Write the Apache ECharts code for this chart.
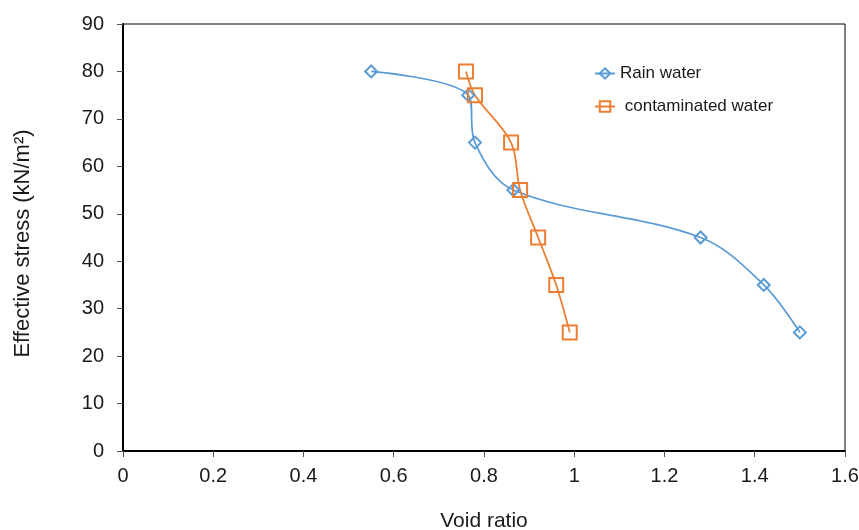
<!DOCTYPE html>
<html><head><meta charset="utf-8">
<script src="https://cdn.jsdelivr.net/npm/echarts@6/dist/echarts.min.js"></script>
<style>html,body{margin:0;padding:0;background:#fff}#c{width:859px;height:530px}</style>
</head><body><div id="c"></div>
<script>
const rainVoid = [0.55, 0.765, 0.78, 0.865, 1.28, 1.42, 1.5];
const rainStress = [80, 75, 65, 55, 45, 35, 25];
const contVoid = [0.76, 0.78, 0.86, 0.88, 0.92, 0.96, 0.99];
const contStress = [80, 75, 65, 55, 45, 35, 25];
const seriesNames = ['Rain water', 'contaminated water'];

const chart = echarts.init(document.getElementById('c'), null, {renderer: 'canvas'});
const font = 'Liberation Sans, Arial, sans-serif';
chart.setOption({
  animation: false,
  backgroundColor: '#fff',
  grid: {left: 123, right: 14, top: 24, bottom: 79, show: true, borderColor: '#000', borderWidth: 1,
    containLabel: false, outerBoundsMode: 'none'},
  legend: {
    orient: 'vertical', left: 594, top: 65, padding: 0, itemGap: 16, itemWidth: 20, itemHeight: 13,
    textStyle: {fontFamily: font, fontSize: 17, color: '#1a1a1a'},
    formatter: n => n === 'contaminated water' ? ' ' + n : n,
    data: seriesNames
  },
  xAxis: {
    type: 'value', min: 0, max: 1.6, interval: 0.2,
    name: 'Void ratio', nameLocation: 'middle', nameGap: 60,
    nameTextStyle: {fontFamily: font, fontSize: 21, color: '#1a1a1a'},
    axisLine: {show: true, lineStyle: {color: '#000', width: 2}},
    axisTick: {show: true, length: 6, lineStyle: {color: '#555'}},
    axisLabel: {fontFamily: font, fontSize: 20, color: '#1a1a1a', margin: 15,
      formatter: v => String(Math.round(v * 10) / 10)},
    splitLine: {show: false}
  },
  yAxis: {
    type: 'value', min: 0, max: 90, interval: 10,
    name: 'Effective stress (kN/m²)', nameLocation: 'middle', nameGap: 89, nameRotate: 90,
    nameTextStyle: {fontFamily: font, fontSize: 22, color: '#1a1a1a', padding: [0, 12, 0, 0]},
    axisLine: {show: true, lineStyle: {color: '#000', width: 2}},
    axisTick: {show: true, length: 6, lineStyle: {color: '#555'}},
    axisLabel: {fontFamily: font, fontSize: 20, color: '#1a1a1a', margin: 19},
    splitLine: {show: false}
  },
  series: [
    {
      name: seriesNames[0], type: 'line', smooth: 0.35,
      data: rainVoid.map((v, i) => [v, rainStress[i]]),
      symbol: 'diamond', symbolSize: 12,
      lineStyle: {color: '#5B9BD5', width: 1.75},
      itemStyle: {color: 'rgba(255,255,255,0)', borderColor: '#5B9BD5', borderWidth: 2},
      color: '#5B9BD5'
    },
    {
      name: seriesNames[1], type: 'line', smooth: 0.35,
      data: contVoid.map((v, i) => [v, contStress[i]]),
      symbol: 'rect', symbolSize: 14,
      lineStyle: {color: '#ED7D31', width: 1.75},
      itemStyle: {color: 'rgba(255,255,255,0)', borderColor: '#ED7D31', borderWidth: 2},
      color: '#ED7D31'
    }
  ]
});
</script></body></html>
